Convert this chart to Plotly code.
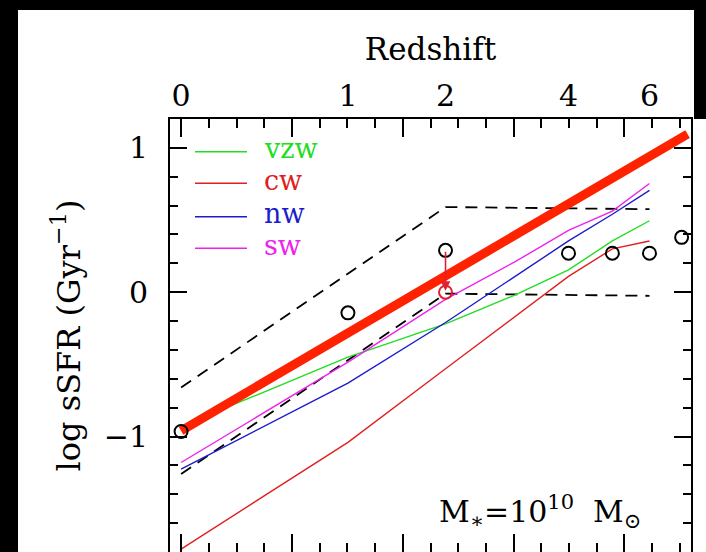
import numpy as np
import plotly.graph_objects as go

# Redshift grid shared by the model curves
z_model = [0, 1, 2, 3, 4, 5, 6]
logssfr_vzw = [-0.93, -0.45, -0.22, -0.02, 0.155, 0.355, 0.495]
logssfr_cw = [-1.78, -1.04, -0.53, -0.17, 0.11, 0.30, 0.355]
logssfr_nw = [-1.225, -0.63, -0.21, 0.11, 0.355, 0.54, 0.706]
logssfr_sw = [-1.18, -0.485, -0.05, 0.21, 0.428, 0.562, 0.753]

# Observed sSFR at fixed stellar mass
z_obs = [0, 1, 2, 4, 5, 6, 7]
logssfr_obs = [-0.965, -0.143, 0.29, 0.27, 0.27, 0.27, 0.38]
z_corr = [2]
logssfr_corr = [0.0]

# Envelope of the observations (dashed)
z_band = [0, 2, 6]
band_hi = [-0.66, 0.59, 0.575]
band_lo = [-1.26, -0.01, -0.025]

# Power-law fit (1+z)^2.25
z_fit = [0, 7.2]
logssfr_fit = [-0.96, 1.095]

top_ticks_z = [0, 1, 2, 4, 6]


def lz(z):
    return np.log10(1.0 + np.asarray(z, dtype=float))


FONT = "DejaVu Serif"
XR = [-0.02, 0.92]
YR = [-1.80, 1.20]

fig = go.Figure()

fig.add_trace(go.Scatter(x=lz(z_band), y=band_hi, mode="lines",
                         line=dict(color="black", width=1.8, dash="12px,8px"),
                         showlegend=False, hoverinfo="skip"))
fig.add_trace(go.Scatter(x=lz(z_band), y=band_lo, mode="lines",
                         line=dict(color="black", width=1.8, dash="12px,8px"),
                         showlegend=False, hoverinfo="skip"))

models = [
    ("vzw", logssfr_vzw, "#22dd22"),
    ("cw", logssfr_cw, "#e02020"),
    ("nw", logssfr_nw, "#1c1ccc"),
    ("sw", logssfr_sw, "#ee22ee"),
]
for name, vals, col in models:
    fig.add_trace(go.Scatter(x=lz(z_model), y=vals, mode="lines", name=name,
                             line=dict(color=col, width=1.4),
                             showlegend=False))

fig.add_trace(go.Scatter(x=lz(z_fit), y=logssfr_fit, mode="lines",
                         line=dict(color="#ff2200", width=9),
                         showlegend=False, hoverinfo="skip"))

fig.add_trace(go.Scatter(x=lz(z_obs), y=logssfr_obs, mode="markers", xaxis="x2",
                         marker=dict(symbol="circle-open", size=13, color="black",
                                     line=dict(width=2, color="black")),
                         showlegend=False))
fig.add_trace(go.Scatter(x=lz(z_corr), y=logssfr_corr, mode="markers",
                         marker=dict(symbol="circle-open", size=13, color="#e02030",
                                     line=dict(width=2, color="#e02030")),
                         showlegend=False))

# arrow from the raw z=2 point down to the corrected one
fig.add_annotation(x=float(lz(z_corr)[0]), y=logssfr_corr[0] + 0.01,
                   ax=float(lz(z_corr)[0]), ay=logssfr_obs[2],
                   xref="x", yref="y", axref="x", ayref="y",
                   showarrow=True, arrowhead=2, arrowsize=1.2, arrowwidth=1.6,
                   arrowcolor="#e02030", text="")

# key: short line samples with coloured labels
PL, PR, PT, PB = 170, 691, 119, 552
def px_x(p):
    return (p - PL) / (PR - PL)
def px_y(p):
    return (PB - p) / (PB - PT)

key_rows = [151.7, 183.3, 216.7, 248.3]
for (name, vals, col), row in zip(models, key_rows):
    fig.add_shape(type="line", xref="paper", yref="paper",
                  x0=px_x(195), x1=px_x(247), y0=px_y(row), y1=px_y(row),
                  line=dict(color=col, width=1.4))
    fig.add_annotation(x=px_x(262), y=px_y(row - 3), xref="paper", yref="paper",
                       text=name, showarrow=False, xanchor="left", yanchor="middle",
                       font=dict(family=FONT, size=27, color=col))

fig.add_annotation(x=0.834, y=-1.52, xref="x", yref="y",
                   text="M<sub>∗</sub>=10<sup>10</sup>  M<sub>⊙</sub>",
                   showarrow=False, xanchor="right", yanchor="middle",
                   font=dict(family=FONT, size=30, color="black"))

# black surround: left and top strips, plus the upper right corner
for x0, x1, y0, y1 in [(0, 18, 0, 552), (0, 706, 0, 10), (694, 706, 0, 119)]:
    fig.add_shape(type="rect", xref="paper", yref="paper", layer="above",
                  x0=px_x(x0), x1=px_x(x1), y0=px_y(y1), y1=px_y(y0),
                  fillcolor="black", line=dict(width=0))

fig.update_layout(
    width=706, height=552,
    margin=dict(l=PL, r=706 - PR, t=PT, b=0),
    paper_bgcolor="white", plot_bgcolor="white",
    font=dict(family=FONT, size=30, color="black"),
    showlegend=False,
    xaxis=dict(range=XR, showgrid=False, zeroline=False,
               showline=True, linecolor="black", linewidth=2, mirror="ticks",
               ticks="inside", tickvals=[0, 0.2, 0.4, 0.6, 0.8], ticklen=18,
               tickwidth=2, tickcolor="black", showticklabels=False,
               minor=dict(tickvals=[0.05, 0.1, 0.15, 0.25, 0.3, 0.35, 0.45, 0.5, 0.55,
                                    0.65, 0.7, 0.75, 0.85, 0.9],
                          ticks="inside", ticklen=9, tickwidth=1.6, tickcolor="black")),
    xaxis2=dict(range=XR, overlaying="x", side="top", showgrid=False, zeroline=False,
                showline=False, ticks="",
                tickvals=list(lz(top_ticks_z)), ticktext=[str(v) for v in top_ticks_z],
                tickfont=dict(family=FONT, size=30, color="black"),
                ticklabelstandoff=6,
                title=dict(text="Redshift", standoff=8,
                           font=dict(family=FONT, size=31, color="black"))),
    yaxis=dict(range=YR, showgrid=False, zeroline=False,
               showline=True, linecolor="black", linewidth=2, mirror="ticks",
               ticks="inside", tickvals=[-1, 0, 1], ticklen=17, tickwidth=2,
               tickcolor="black", ticktext=["−1", "0", "1"],
               tickfont=dict(family=FONT, size=30, color="black"),
               ticklabelstandoff=14,
               minor=dict(dtick=0.2, ticks="inside", ticklen=8, tickwidth=1.6,
                          tickcolor="black"),
               title=dict(text="log sSFR (Gyr<sup>−1</sup>)", standoff=14,
                          font=dict(family=FONT, size=32, color="black"))),
)

fig.write_html("out.html")
